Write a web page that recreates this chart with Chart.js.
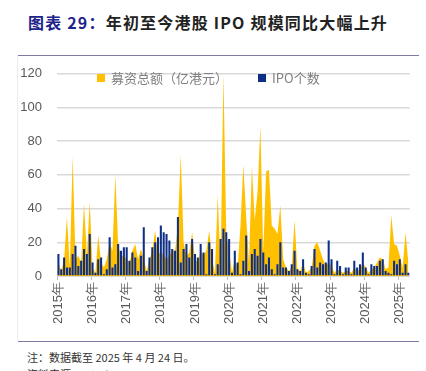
<!DOCTYPE html>
<html>
<head>
<meta charset="utf-8">
<script src="https://cdn.jsdelivr.net/npm/chart.js@4"></script>
<style>
  body { margin: 0; background: #fff; width: 426px; height: 371px; overflow: hidden; position: relative; font-family: "Noto Sans CJK SC", sans-serif; }
  .title { position: absolute; left: 28px; top: 10px; font-size: 16px; font-weight: bold; color: #222; letter-spacing: 1.2px; white-space: nowrap; }
  .title .num { color: #1d2388; }
  .rule { position: absolute; left: 18px; width: 401px; height: 1px; background: #7b7ba6; z-index: 2; }
  .frame { position: absolute; left: 17px; top: 56px; width: 1px; height: 285px; background: #ececec; }
  .chart-box { position: absolute; left: 0; top: 51px; width: 426px; height: 290px; }
  .legend { position: absolute; top: 70px; font-size: 13px; color: #7f7f7f; white-space: nowrap; line-height: 16px; }
  .legend i { display: inline-block; width: 8px; height: 8px; margin-right: 6px; vertical-align: 1px; }
  .note { position: absolute; left: 27px; top: 349px; font-size: 11px; color: #333; white-space: nowrap; }
</style>
</head>
<body>
<div class="title"><span class="num">图表 29：</span>年初至今港股 IPO 规模同比大幅上升</div>
<div class="frame"></div>
<div class="chart-box"><canvas id="chart"></canvas></div>
<div class="rule" style="top:55px"></div>
<div class="legend" style="left:97px"><i style="background:#ffc000"></i>募资总额（亿港元）</div>
<div class="legend" style="left:258px"><i style="background:#0e2f86"></i>IPO个数</div>
<div class="rule" style="top:341px"></div>
<div class="note">注：数据截至 2025 年 4 月 24 日。</div>
<div class="note" style="top:366px">资料来源：Wind</div>

<script>
// one entry per month, Jan 2015 - Apr 2025
const years = ["2015年", "2016年", "2017年", "2018年", "2019年", "2020年",
  "2021年", "2022年", "2023年", "2024年", "2025年"];

// 募资总额（亿港元）
const amount = [
  8, 3, 10, 35, 5, 71, 10, 12, 8, 43, 12, 44,
  5, 2, 24, 8, 5, 10, 20, 15, 60, 18, 12, 12,
  10, 8, 15, 19, 10, 16, 10, 3, 10, 15, 27, 12,
  15, 12, 10, 12, 15, 15, 30, 72, 20, 12, 14, 26,
  10, 8, 15, 12, 15, 27, 10, 2, 48, 5, 120, 25,
  15, 2, 10, 5, 30, 66, 35, 8, 65, 33, 50, 89,
  14, 62, 63, 30, 28, 25, 42, 10, 5, 3, 5, 33,
  4, 3, 8, 2, 3, 5, 18, 20, 15, 10, 6, 8,
  6, 2, 4, 3, 2, 3, 3, 2, 5, 3, 4, 8,
  5, 2, 4, 5, 8, 11, 10, 4, 5, 36, 19, 18,
  12, 5, 26, 8
];

// IPO个数
const ipoCount = [
  13, 4, 11, 5, 5, 13, 18, 6, 9, 16, 13, 25,
  8, 2, 10, 11, 1, 4, 23, 5, 7, 19, 15, 17,
  17, 9, 14, 11, 3, 12, 29, 3, 11, 17, 20, 23,
  30, 26, 25, 21, 16, 15, 35, 8, 16, 19, 11, 22,
  13, 11, 19, 14, 1, 20, 16, 1, 7, 22, 28, 26,
  22, 2, 15, 8, 1, 9, 24, 3, 13, 16, 12, 22,
  14, 7, 11, 4, 1, 7, 20, 5, 5, 3, 7, 15,
  4, 3, 10, 2, 1, 6, 16, 5, 8, 7, 8, 21,
  10, 1, 9, 6, 1, 5, 5, 1, 9, 5, 7, 14,
  5, 1, 7, 6, 6, 9, 10, 3, 2, 1, 9, 7,
  10, 2, 7, 2
];

const labels = amount.map((v, i) => (i % 12 === 0 ? years[i / 12] : ""));

const ctx = document.getElementById("chart").getContext("2d");
new Chart(ctx, {
  type: "bar",
  data: {
    labels: labels,
    datasets: [
      {
        label: "IPO个数",
        data: ipoCount,
        backgroundColor: "#0e2f86",
        barPercentage: 0.72,
        categoryPercentage: 1,
        order: 1,
      },
      {
        type: "line",
        label: "募资总额（亿港元）",
        data: amount,
        backgroundColor: "#ffc000",
        borderWidth: 0,
        pointRadius: 0,
        fill: "origin",
        tension: 0,
        order: 2,
      },
    ],
  },
  options: {
    responsive: true,
    maintainAspectRatio: false,
    devicePixelRatio: 1,
    animation: false,
    layout: { padding: { top: 11, right: 13, left: 0, bottom: 0 } },
    plugins: { legend: { display: false }, tooltip: { enabled: false } },
    scales: {
      x: {
        afterFit: (scale) => { scale.height = 65; },
        grid: {
          drawOnChartArea: false,
          tickLength: 4,
          color: (c) => (c.index % 12 === 0 ? "#bfbfbf" : "rgba(0,0,0,0)"),
        },
        border: { color: "#d9d9d9" },
        ticks: {
          autoSkip: false,
          minRotation: 90,
          maxRotation: 90,
          padding: 2,
          color: "#595959",
          font: { family: "Liberation Sans", size: 13 },
        },
      },
      y: {
        min: 0,
        max: 120,
        afterFit: (scale) => { scale.width = 57; },
        grid: { color: "#d9d9d9", lineWidth: 1.5, drawTicks: false },
        border: { display: false },
        ticks: {
          stepSize: 20,
          padding: 15,
          color: "#595959",
          font: { family: "Liberation Sans", size: 13 },
        },
      },
    },
  },
});
</script>
</body>
</html>
